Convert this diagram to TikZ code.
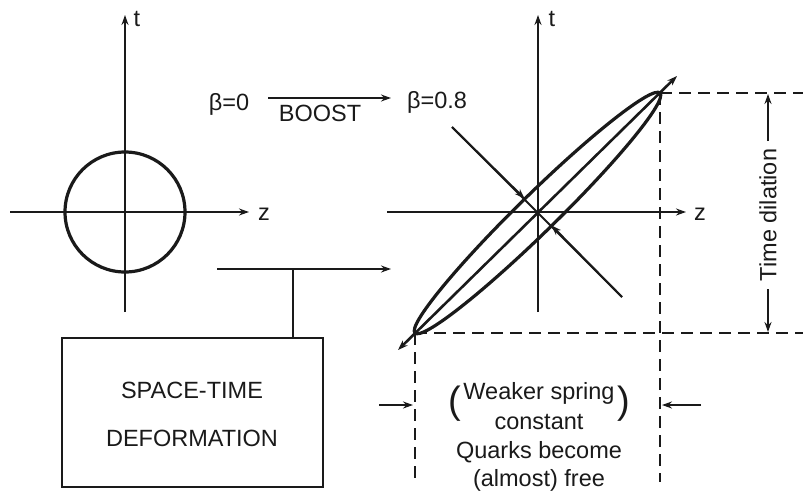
\documentclass[tikz,border=0pt]{standalone}
\usepackage{fontspec}
\setmainfont{Liberation Sans}
\usetikzlibrary{arrows.meta}
\definecolor{ink}{HTML}{1A1A1A}
\begin{document}
\begin{tikzpicture}[x=1pt,y=-1pt,
  ax/.style={line width=2pt, draw=ink},
  tip/.style={-{Stealth[length=10pt,width=7pt]}},
  dbl/.style={{Stealth[length=10pt,width=7pt]}-{Stealth[length=10pt,width=7pt]}},
  dsh/.style={line width=2pt, draw=ink, dash pattern=on 12pt off 7pt},
  lbl/.style={font=\fontsize{23.5}{28}\selectfont, text=ink, inner sep=0pt},
  heavy/.style={line width=3.2pt, draw=ink}]
\useasboundingbox[fill=white] (0,0) rectangle (803,493);

% ---------- left diagram ----------
\coordinate (lo) at (125,212);
\coordinate (ltb) at (125,312);
\coordinate (ltt) at (125,15);
\coordinate (lzl) at (10,212);
\coordinate (lzr) at (249,212);
\draw[ax,tip] (ltb) -- (ltt);
\draw[ax,tip] (lzl) -- (lzr);
\node[lbl] (lt) at (137,19) {t};
\node[lbl] (lz) at (264,214) {z};
\draw[heavy] (lo) circle[radius=60pt];

% ---------- boost ----------
\node[lbl,anchor=base] (b0) at (229,110) {β=0};
\coordinate (bs) at (268,98);
\coordinate (be) at (391,98);
\draw[ax,tip] (bs) -- (be);
\node[lbl] (boost) at (320,113) {BOOST};
\node[lbl,anchor=base] (b8) at (437,108) {β=0.8};

% ---------- right diagram ----------
\coordinate (ro) at (538,212);
\coordinate (rtb) at (538,312);
\coordinate (rtt) at (538,15);
\coordinate (rzl) at (387,212);
\coordinate (rzr) at (686,212);
\draw[ax,tip] (rtb) -- (rtt);
\draw[ax,tip] (rzl) -- (rzr);
\node[lbl] (rt) at (552,19) {t};
\node[lbl] (rz) at (700,214) {z};

\coordinate (E1) at (660,93);
\coordinate (E2) at (415,333);
\coordinate (EC) at (537.5,213);
\coordinate (M1) at (677,76);
\coordinate (M2) at (398,350);
\draw[heavy, rotate around={44.4:(EC)}] (EC) ellipse[x radius=171.5pt, y radius=19pt];
\draw[ax, line width=2.6pt, dbl] (M2) -- (M1);

\coordinate (P1) at (452,127);
\coordinate (P2) at (622,297);
\coordinate (Q1) at (524.5,198.5);
\coordinate (Q2) at (551.5,225.5);
\draw[ax] (P1) -- (P2);
\draw[ax,tip] (P1) -- (Q1);
\draw[ax,tip] (P2) -- (Q2);

% ---------- dashed guides ----------
\coordinate (Ar) at (803,93);
\coordinate (Br) at (803,333);
\coordinate (Ab) at (660,482);
\coordinate (Bb) at (415,482);
\draw[dsh] (E1) -- (Ar);
\draw[dsh] (E2) -- (Br);
\draw[dsh] (E1) -- (Ab);
\draw[dsh] (E2) -- (Bb);

% ---------- time dilation ----------
\node[lbl,rotate=90] (td) at (768,215) {Time dilation};
\coordinate (tdt) at (768,94);
\coordinate (tdb) at (768,332);
\draw[ax,tip] (768,141) -- (tdt);
\draw[ax,tip] (768,289) -- (tdb);

% ---------- width arrows ----------
\coordinate (wl0) at (379,405);
\coordinate (wl1) at (413,405);
\coordinate (wr0) at (701,405);
\coordinate (wr1) at (662,405);
\draw[ax,tip] (wl0) -- (wl1);
\draw[ax,tip] (wr0) -- (wr1);

\node[lbl] (w1) at (539,393) {Weaker spring};
\node[lbl] (w2) at (539,422) {constant};
\node[lbl] (w3) at (539,452) {Quarks become};
\node[lbl] (w4) at (539,480) {(almost) free};
\node[font=\fontsize{38}{42}\selectfont, text=ink, inner sep=0pt] (pl) at (455,404) {(};
\node[font=\fontsize{38}{42}\selectfont, text=ink, inner sep=0pt] (pr) at (624,404) {)};

% ---------- box ----------
\node[draw=ink, line width=2.4pt, minimum width=261pt, minimum height=149pt, inner sep=0pt] (box) at (192.5,412.5) {};
\node[lbl] (s1) at (192,390) {SPACE-TIME};
\node[lbl] (s2) at (192,438) {DEFORMATION};
\coordinate (jl) at (217,269);
\coordinate (jr) at (391,269);
\coordinate (jn) at (293,269);
\draw[ax,tip] (jl) -- (jr);
\draw[ax] (box.north -| jn) -- (jn);
\end{tikzpicture}
\end{document}
